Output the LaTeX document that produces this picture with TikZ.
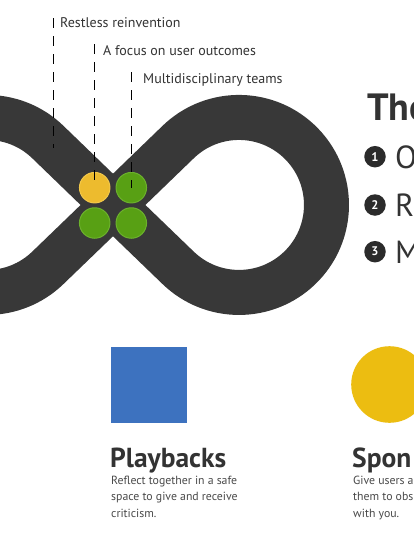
\documentclass[tikz,border=0pt]{standalone}
\usepackage{fontspec}
\setmainfont{PT Sans}
\definecolor{band}{HTML}{383838}
\definecolor{ink}{HTML}{333333}
\definecolor{bodyink}{HTML}{4A4A4A}
\definecolor{dotyellow}{HTML}{EDBB2E}
\definecolor{dotyellowrim}{HTML}{F3C84A}
\definecolor{dotgreen}{HTML}{58A014}
\definecolor{dotgreenrim}{HTML}{6CB22C}
\definecolor{sqblue}{HTML}{3D72BF}
\definecolor{bigyellow}{HTML}{ECBD11}
\definecolor{numdisc}{HTML}{2B2B2B}
\tikzset{
  dashline/.style={draw=black, line width=0.9, dash pattern=on 10 off 8},
  label/.style={anchor=base west, inner sep=0, text=ink, font=\fontsize{14}{16}\selectfont},
  yellowdot/.style={circle, fill=dotyellow, draw=dotyellowrim, line width=1, minimum size=30.5, inner sep=0},
  greendot/.style={circle, fill=dotgreen, draw=dotgreenrim, line width=1, minimum size=30.5, inner sep=0},
  numdot/.style={circle, fill=numdisc, minimum size=21.5, inner sep=0, text=white, font=\bfseries\fontsize{12.5}{12.5}\selectfont},
  bigletter/.style={anchor=base west, inner sep=0, text=ink, font=\fontsize{32}{32}\selectfont},
  heading/.style={anchor=base west, inner sep=0, text=ink, font=\bfseries\fontsize{27.5}{27.5}\selectfont},
  bodytext/.style={anchor=base west, inner sep=0, text=bodyink, font=\fontsize{11.8}{14}\selectfont}
}
\begin{document}
\begin{tikzpicture}[x=1pt,y=-1pt]
\useasboundingbox (0,0) rectangle (414,552);
\clip (0,0) rectangle (414,552);
\fill[white] (0,0) rectangle (414,552);
% infinity band
\draw[band, line width=45, line join=round]
  (113,205) -- (178.2,142.0) arc[start angle=-134, end angle=134, radius=87.5]
  -- (113,205) -- (47.8,142.0) arc[start angle=-46, end angle=-314, radius=87.5] -- cycle;
% four dots
\node[yellowdot] (dy) at (94.7,187.7) {};
\node[greendot] (dg1) at (131.3,187.7) {};
\node[greendot] (dg2) at (94.7,223) {};
\node[greendot] (dg3) at (131.3,223) {};
% labels and dashed leaders
\node[label] (l1) at (60,27.3) {Restless reinvention};
\node[label] (l2) at (103,55) {A focus on user outcomes};
\node[label] (l3) at (143,83.3) {Multidisciplinary teams};
\coordinate (t1) at (53,18);
\coordinate (b1) at (53,148);
\coordinate (t2) at (94.7,44);
\coordinate (t3) at (131.3,72);
\draw[dashline] (t1) -- (b1);
\draw[dashline] (t2) -- (dy.center);
\draw[dashline] (t3) -- (dg1.center);
% right heading and list
\node[anchor=base west, inner sep=0, text=ink, font=\bfseries\fontsize{38}{38}\selectfont] (the) at (367,120) {The};
\node[numdot] (n1) at (375,156.7) {1};
\node[numdot] (n2) at (375,205) {2};
\node[numdot] (n3) at (375,251.7) {3};
\node[bigletter] (o) at (395,168.2) {O};
\node[bigletter] (r) at (395,216.5) {R};
\node[bigletter] (m) at (395,263.2) {M};
% bottom cards
\fill[sqblue] (111,347) rectangle (187,423);
\fill[bigyellow] (389.5,384.5) circle[radius=38.3];
\node[heading] (h1) at (110,467) {Playbacks};
\node[bodytext] at (111,484) {Reflect together in a safe};
\node[bodytext] at (111,500.5) {space to give and receive};
\node[bodytext] at (111,517) {criticism.};
\node[heading] (h2) at (352,467) {Spon};
\node[bodytext] at (353,484) {Give users a};
\node[bodytext] at (353,500.5) {them to obs};
\node[bodytext] at (353,517) {with you.};
\end{tikzpicture}
\end{document}
